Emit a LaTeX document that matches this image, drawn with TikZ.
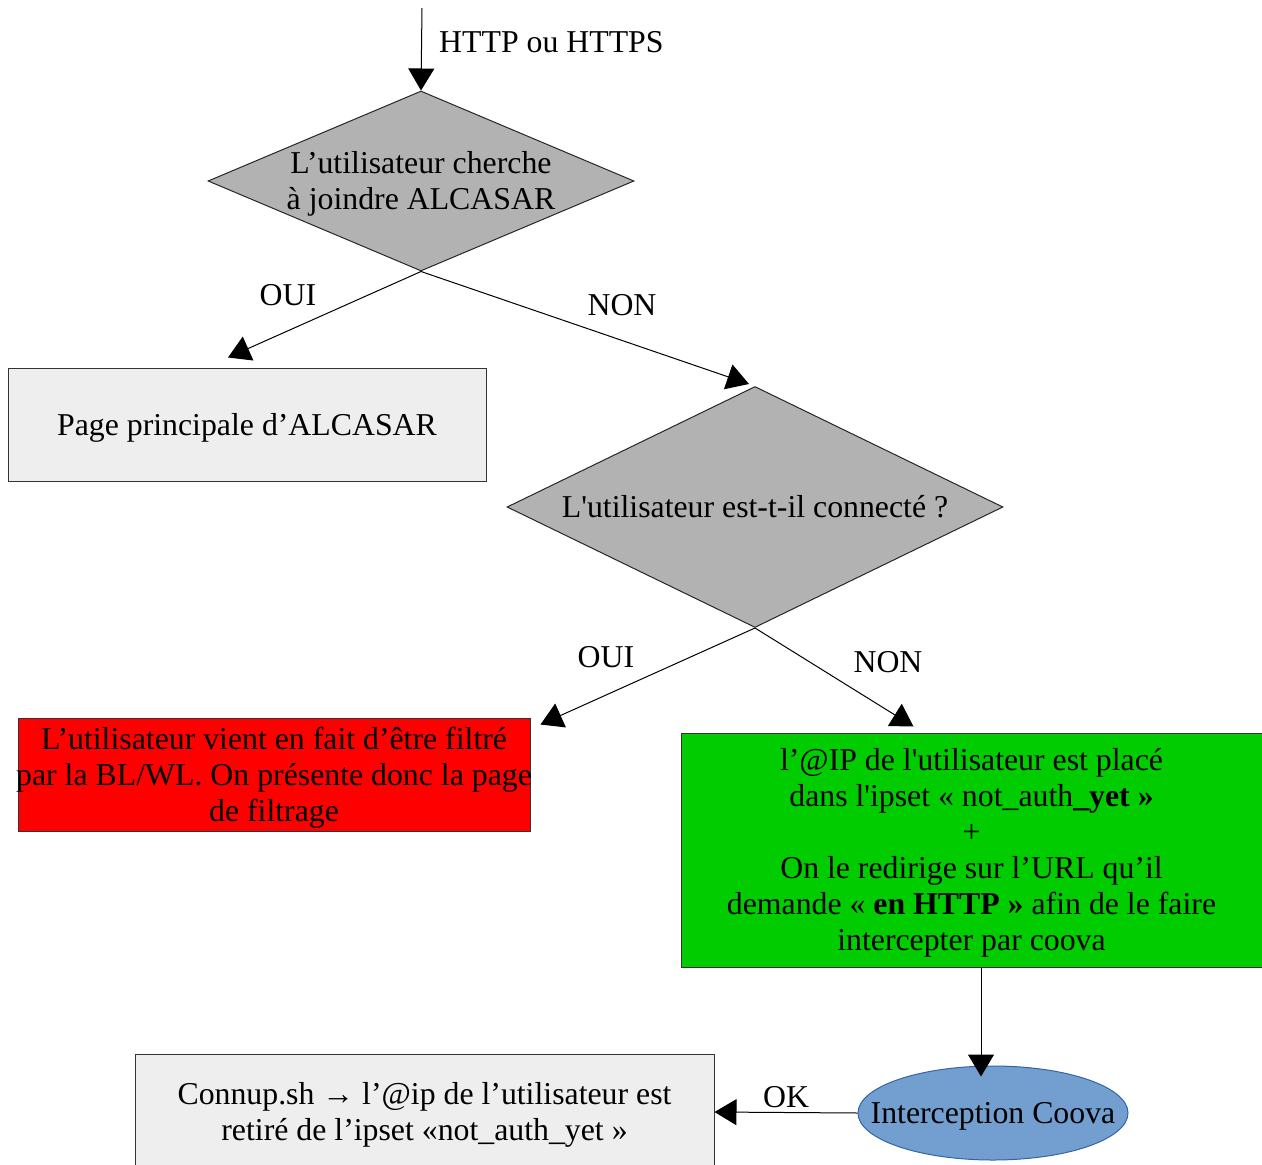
\documentclass[tikz,border=0pt]{standalone}
\usepackage{fontspec}
\setmainfont{Liberation Serif}
\usepackage{tikz}
\usetikzlibrary{shapes.geometric,arrows.meta}

\definecolor{losange}{RGB}{178,178,178}
\definecolor{boite}{RGB}{238,238,238}
\definecolor{rouge}{RGB}{255,0,0}
\definecolor{vert}{RGB}{0,204,0}
\definecolor{bleu}{RGB}{114,159,207}
\definecolor{bleufonce}{RGB}{52,101,164}
\newcommand{\lostrut}{\rule[-0.216em]{0pt}{1.107em}}

\begin{document}
\begin{tikzpicture}[x=1pt,y=-1pt,
    font=\fontsize{31.8}{36}\selectfont,
    arr/.style={line width=1pt,-{Triangle[length=22pt,width=26pt]}},
    lo/.style={execute at begin node=\lostrut,execute at end node=\lostrut},
    test/.style={diamond,draw=black!85,fill=losange,line width=1pt,inner sep=0pt,align=center},
    boxe/.style={rectangle,draw=black!80,line width=1pt,inner sep=0pt,align=center},
    lbl/.style={inner sep=0pt}]
    \useasboundingbox (0,0) rectangle (1262,1165);
    % decisions
    \node[test,inner sep=-6pt,aspect=2.367,minimum width=426pt,minimum height=180pt] (cherche) at (421,181) {\lostrut L’utilisateur cherche\\à joindre ALCASAR};
    \node[test,aspect=2.058,minimum width=496pt,minimum height=241pt] (connecte) at (755,507) {L\textquotesingle{}utilisateur est-t-il connecté ?};
    % resultats
    \node[boxe,lo,fill=boite,minimum width=478pt,minimum height=113pt] (principale) at (247,424.5) {Page principale d’ALCASAR};
    \node[boxe,fill=rouge,minimum width=512pt,minimum height=113pt] (filtrage) at (274,774.5) {\lostrut L’utilisateur vient en fait d’être filtré\\\makebox[480pt]{par la BL/WL. On présente donc la page}\\de filtrage};
    \node[boxe,fill=vert,minimum width=581pt,minimum height=234pt] (ipset) at (971.5,850) {\lostrut l’@IP de l\textquotesingle{}utilisateur est placé\\dans l\textquotesingle{}ipset « not\_auth\textbf{\_yet »}\\+\\On le redirige sur l’URL qu’il\\demande « \textbf{en HTTP »} afin de le faire\\intercepter par coova};
    \node[ellipse,lo,draw=bleufonce,fill=bleu,line width=1pt,inner sep=0pt,minimum width=270pt,minimum height=94pt] (coova) at (993,1113) {\makebox[0pt]{Interception Coova}};
    \node[boxe,fill=boite,minimum width=579pt,minimum height=116pt] (connup) at (424.5,1112) {\lostrut Connup.sh → l’@ip de l’utilisateur est\\retiré de l’ipset «not\_auth\_yet »};
    % entree
    \coordinate (entree) at (422,8);
    \node[lbl,anchor=west] (http) at (439,42) {HTTP ou HTTPS};
    % fleches
    \draw[arr] (entree) -- (cherche.north);
    \draw[arr] (cherche.south) -- ([xshift=-19pt,yshift=10pt]principale.north);
    \draw[arr] (cherche.south) -- ([xshift=-6pt,yshift=2pt]connecte.north);
    \draw[arr] (connecte.south) -- ([xshift=10pt,yshift=-7pt]filtrage.north east);
    \draw[arr] (connecte.south) -- ([xshift=-58pt,yshift=6pt]ipset.north);
    \draw[arr] ([xshift=9.5pt]ipset.south) -- ([xshift=-12pt,yshift=-11pt]coova.north);
    \draw[arr] (coova.west) -- (connup.east);
    % etiquettes
    \node[lbl] (oui1) at (288,295) {OUI};
    \node[lbl] (non1) at (622,305) {NON};
    \node[lbl] (oui2) at (606,657) {OUI};
    \node[lbl] (non2) at (888,662) {NON};
    \node[lbl] (ok) at (786,1097) {OK};
\end{tikzpicture}
\end{document}
